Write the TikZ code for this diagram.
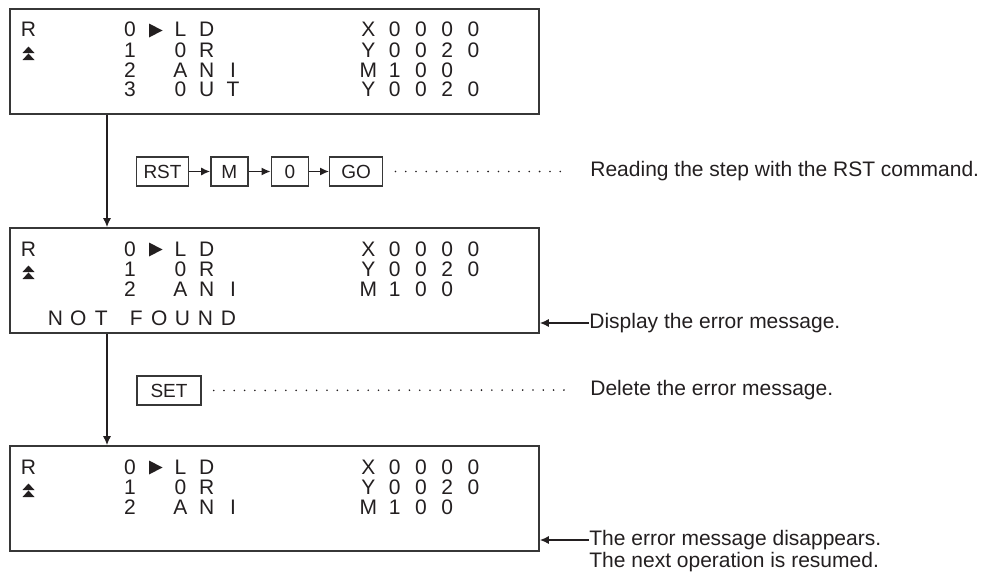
\documentclass[tikz,border=0pt]{standalone}
\usepackage{fontspec}
\setmainfont{Liberation Sans}
\usetikzlibrary{positioning,arrows.meta}
\definecolor{ink}{RGB}{35,31,32}
\definecolor{frame}{RGB}{55,55,55}

% fixed character cells, like the LCD of the handheld programmer
\newlength\cellw
\newcommand\lcd[2][13.15pt]{\setlength\cellw{#1}\lcdnext#2\relax}
\def\lcdnext#1{\ifx\relax#1\else\makebox[\cellw]{#1}\expandafter\lcdnext\fi}

\begin{document}
\begin{tikzpicture}[
  x=0.5pt,
  y=-0.5pt,
  every node/.style={text=ink},
  screen/.style={
    draw=frame,
    line width=0.8pt,
    minimum width=264.5pt,
    minimum height=52.5pt,
    inner sep=0pt
  },
  lcdtext/.style={font=\fontsize{10.5}{12}\selectfont, inner sep=0pt, anchor=base west},
  key/.style={
    draw=frame,
    line width=0.7pt,
    minimum width=18.5pt,
    minimum height=14.5pt,
    inner xsep=3.5pt,
    inner ysep=0pt,
    font=\fontsize{9.5}{11}\selectfont
  },
  note/.style={font=\fontsize{10.5}{12}\selectfont, inner sep=0pt, anchor=west},
  arr/.style={draw=ink, line width=0.7pt, -{Latex[length=4.5pt,width=4pt]}},
  leader/.style={draw=ink, line width=0.9pt, line cap=round,
    dash pattern=on 0pt off 5.15pt, shorten <=6pt, shorten >=11.5pt}
]
  \useasboundingbox (0,0) rectangle (987,573);

  % the three screens, same first three lines
  \foreach \s/\t in {1/9,2/228,3/446} {
    \node[screen] (scr\s) at (274.5,\t+52.5) {};
    \node[lcdtext, anchor=base] (rd\s) at (28.5,\t+28) {R};
    \fill[ink] (22.5,\t+44) -- (28.5,\t+37.5) -- (34.5,\t+44) -- cycle
               (22.5,\t+51) -- (28.5,\t+44.5) -- (34.5,\t+51) -- cycle;
    \fill[ink] (149,\t+14.5) -- (162.5,\t+21.5) -- (149,\t+28.5) -- cycle;
    \node[lcdtext, anchor=base] (st\s a) at (130,\t+28) {0};
    \node[lcdtext, anchor=base] (st\s b) at (130,\t+48) {1};
    \node[lcdtext, anchor=base] (st\s c) at (130,\t+68) {2};
    \node[lcdtext] (ins\s a) at (166.85,\t+28) {\lcd{LD}};
    \node[lcdtext] (ins\s b) at (166.85,\t+48) {\lcd{0R}};
    \node[lcdtext] (ins\s c) at (166.85,\t+68) {\lcd{ANI}};
    \node[lcdtext] (dev\s a) at (354.85,\t+28) {\lcd{X0000}};
    \node[lcdtext] (dev\s b) at (354.85,\t+48) {\lcd{Y0020}};
    \node[lcdtext] (dev\s c) at (354.85,\t+68) {\lcd{M100}};
  }
  \node[lcdtext, anchor=base] (st1d) at (130,97) {3};
  \node[lcdtext] (ins1d) at (166.85,97) {\lcd{0UT}};
  \node[lcdtext] (dev1d) at (354.85,97) {\lcd{Y0020}};
  \node[lcdtext] (notfound) at (43.5,325) {\lcd[11.5pt]{NOT}\hspace{6pt}\lcd[11.5pt]{FOUND}};

  \coordinate (spine) at (107,0);
  \draw[arr] (scr1.south -| spine) -- (scr2.north -| spine);
  \draw[arr] (scr2.south -| spine) -- (scr3.north -| spine);

  % key operations
  \node[key] (rst) at (162.5,171.5) {RST};
  \node[key, right=10.5pt of rst] (m) {M};
  \node[key, right=11pt of m] (zero) {0};
  \node[key, minimum width=26.5pt, right=10pt of zero] (go) {GO};
  \draw[arr] (rst) -- (m);
  \draw[arr] (m) -- (zero);
  \draw[arr] (zero) -- (go);
  \node[note] (rdtxt) at (590,171.5) {Reading the step with the RST command.};
  \draw[leader] (go.east) -- (rdtxt.west);

  \node[key, minimum width=32pt] (set) at (169,390.5) {SET};
  \node[note] (delmsg) at (590,390) {Delete the error message.};
  \draw[leader] (set.east) -- (delmsg.west);

  % remarks on the right
  \node[note] (dispmsg) at (589,323) {Display the error message.};
  \draw[arr] (dispmsg.west) -- (dispmsg.west -| scr2.east);
  \node[note] (gone1) at (589,540) {The error message disappears.};
  \node[note, anchor=north west, yshift=-1pt] (gone2) at (gone1.south west) {The next operation is resumed.};
  \draw[arr] (gone1.west) -- (gone1.west -| scr3.east);
\end{tikzpicture}
\end{document}
